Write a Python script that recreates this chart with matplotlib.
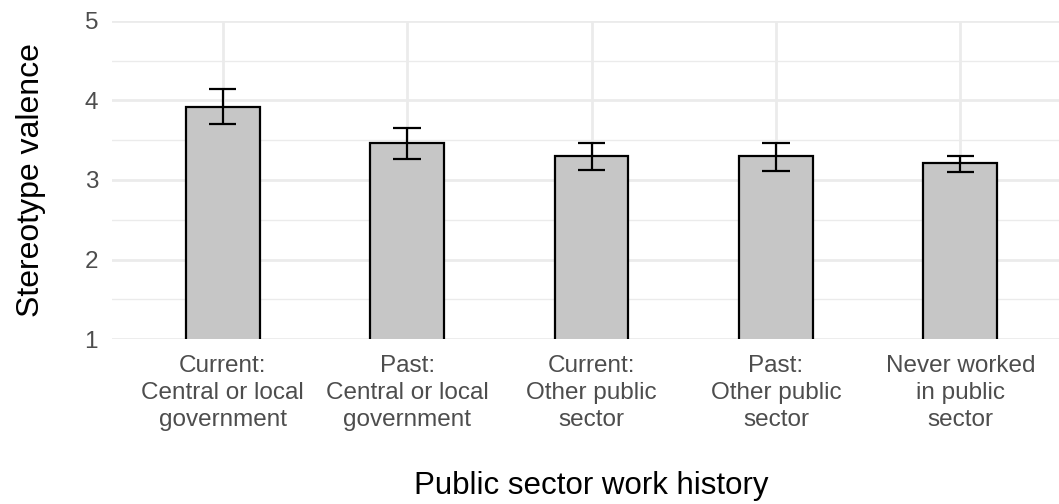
import numpy as np
import matplotlib as mpl
import matplotlib.pyplot as plt

# group means and error limits for stereotype valence
groups = ["Current:\nCentral or local\ngovernment",
          "Past:\nCentral or local\ngovernment",
          "Current:\nOther public\nsector",
          "Past:\nOther public\nsector",
          "Never worked\nin public\nsector"]
means = [3.92, 3.46, 3.30, 3.30, 3.21]
upper = [4.14, 3.65, 3.46, 3.47, 3.30]
lower = [3.70, 3.26, 3.12, 3.11, 3.10]

mpl.rcParams['font.family'] = ['Liberation Sans', 'DejaVu Sans']

fig = plt.figure(figsize=(10.59, 5.04), dpi=100)
W, H = 1059., 504.
# panel runs past the right edge on purpose (discrete expansion of 0.6)
left, right = 112. / W, 1071. / W
bottom, top = 1 - 339.3 / H, 1 - 20.7 / H
ax = fig.add_axes([left, bottom, right - left, top - bottom])

x = np.arange(1, len(groups) + 1)
ax.set_xlim(0.4, len(groups) + 0.6)
ax.set_ylim(1, 5)

grid_col = '#EBEBEB'
for yv in [1, 2, 3, 4, 5]:
    ax.axhline(yv, color=grid_col, lw=2.0, zorder=0)
for yv in [1.5, 2.5, 3.5, 4.5]:
    ax.axhline(yv, color=grid_col, lw=1.0, zorder=0)
for xv in x:
    ax.axvline(xv, color=grid_col, lw=2.0, zorder=0)

ax.bar(x, means, width=0.4, bottom=0, color='#C6C6C6', edgecolor='black',
       linewidth=1.6, zorder=2)

cap = 0.075
ax.vlines(x, lower, upper, color='black', lw=1.6, zorder=3)
ax.hlines(upper, x - cap, x + cap, color='black', lw=1.6, zorder=3)
ax.hlines(lower, x - cap, x + cap, color='black', lw=1.6, zorder=3)

for s in ax.spines.values():
    s.set_visible(False)

ax.set_xticks(x)
ax.set_xticklabels(groups, fontsize=17.5, color='#4D4D4D', linespacing=1.3)
ax.set_yticks([1, 2, 3, 4, 5])
ax.set_yticklabels(['1', '2', '3', '4', '5'], fontsize=17.5, color='#4D4D4D')
ax.tick_params(axis='both', length=0)
ax.tick_params(axis='x', pad=11)
ax.tick_params(axis='y', pad=10)

ax.set_xlabel('Public sector work history', fontsize=22.5, labelpad=29)
ax.set_ylabel('Stereotype valence', fontsize=23, labelpad=28)

fig.savefig('out.png', dpi=100)
